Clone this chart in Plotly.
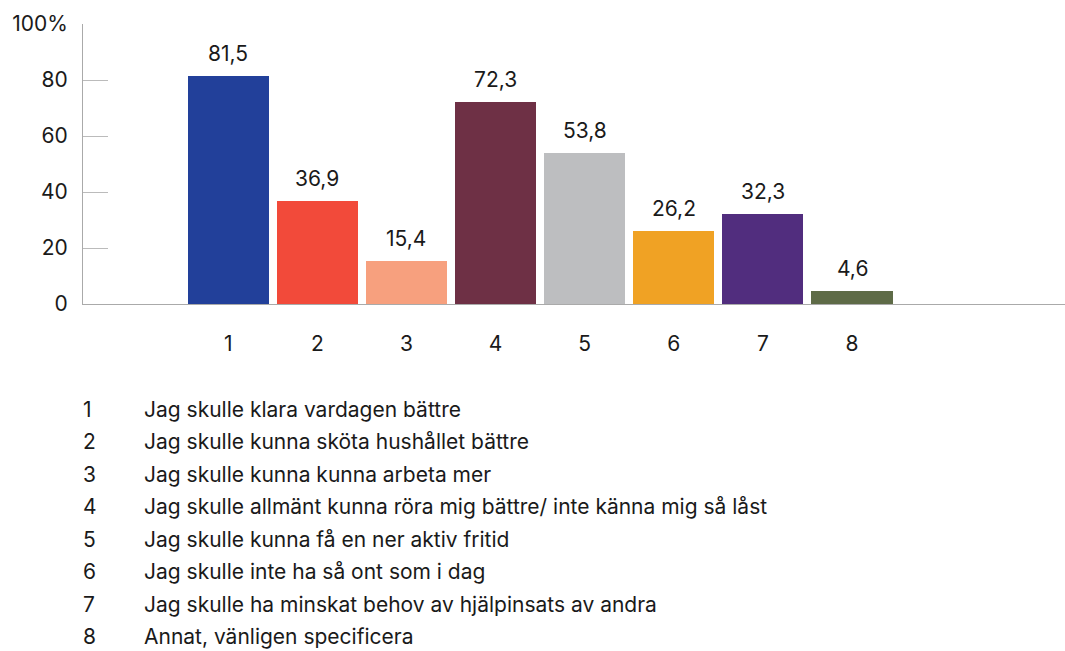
import plotly.graph_objects as go

categories = [1, 2, 3, 4, 5, 6, 7, 8]
values = [81.5, 36.9, 15.4, 72.3, 53.8, 26.2, 32.3, 4.6]
colors = ["#22409A", "#F24A3A", "#F7A07E", "#6E3045", "#BDBEC0", "#F0A224", "#512D7E", "#5E6B47"]
descriptions = [
    "Jag skulle klara vardagen bättre",
    "Jag skulle kunna sköta hushållet bättre",
    "Jag skulle kunna kunna arbeta mer",
    "Jag skulle allmänt kunna röra mig bättre/ inte känna mig så låst",
    "Jag skulle kunna få en ner aktiv fritid",
    "Jag skulle inte ha så ont som i dag",
    "Jag skulle ha minskat behov av hjälpinsats av andra",
    "Annat, vänligen specificera",
]
y_tickvals = [0, 20, 40, 60, 80, 100]
y_ticktext = ["0", "20", "40", "60", "80", "100%"]

FONT = "Inter, Lato, sans-serif"
TXT = "#1a1a1a"
FS = 21
W, H = 1065, 651
L, R, T, B = 83, 0, 24, 347
plot_h = H - T - B
plot_w = W - L - R

fig = go.Figure()
fig.add_trace(go.Bar(
    x=categories, y=values, marker_color=colors, marker_line_width=0,
    width=0.91, hoverinfo="skip",
))

annotations = []
for c, v in zip(categories, values):
    annotations.append(dict(
        x=c, y=v, xref="x", yref="y", text=f"{v:.1f}".replace(".", ","),
        showarrow=False, yanchor="bottom", yshift=8,
        font=dict(family=FONT, size=FS, color=TXT),
    ))

row0 = 409.5
step = 32.45
for i, (c, d) in enumerate(zip(categories, descriptions)):
    ypix = row0 + i * step
    yp = (H - B - ypix) / plot_h
    annotations.append(dict(
        x=(82 - L) / plot_w, y=yp, xref="paper", yref="paper", text=str(c),
        showarrow=False, xanchor="left", yanchor="middle", borderpad=0,
        font=dict(family=FONT, size=FS, color=TXT),
    ))
    annotations.append(dict(
        x=(143 - L) / plot_w, y=yp, xref="paper", yref="paper", text=d,
        showarrow=False, xanchor="left", yanchor="middle", borderpad=0,
        font=dict(family=FONT, size=FS, color=TXT),
    ))

fig.update_layout(
    width=W, height=H,
    margin=dict(l=L, r=R, t=T, b=B, pad=0),
    paper_bgcolor="white", plot_bgcolor="white",
    showlegend=False,
    annotations=annotations,
    bargap=0,
    xaxis=dict(
        range=[-0.63, 10.39], tickvals=categories, ticktext=[str(c) for c in categories],
        showgrid=False, zeroline=False, showline=True, linecolor="#aaaaaa", linewidth=1,
        ticks="", ticklabelstandoff=21,
        tickfont=dict(family=FONT, size=FS, color=TXT), fixedrange=True,
    ),
    yaxis=dict(
        range=[0, 100], tickvals=y_tickvals, ticktext=y_ticktext,
        showgrid=False, zeroline=False, showline=True, linecolor="#aaaaaa", linewidth=1,
        ticks="inside", ticklen=25, tickcolor="#bbbbbb", tickwidth=1,
        ticklabelstandoff=10,
        tickfont=dict(family=FONT, size=FS, color=TXT), fixedrange=True,
    ),
)

fig.write_html(
    "out.html",
    config={"displayModeBar": False},
    post_script="document.body.style.margin='0';document.body.style.overflow='hidden';",
)
